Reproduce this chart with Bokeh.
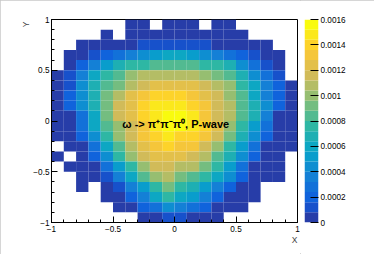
import numpy as np
from bokeh.plotting import figure
from bokeh.models import FixedTicker, CustomJSTickFormatter, Label, Range1d, Title
from bokeh.layouts import row
from bokeh.embed import file_html
from bokeh.resources import INLINE

# ---------------- data ----------------
# bin edges (20 x 20 bins over the Dalitz variables X, Y)
x_edges = np.linspace(-1.0, 1.0, 21)
y_edges = np.linspace(-1.0, 1.0, 21)

# bin contents in units of 1e-5, rows from top (Y = 0.9..1.0) to bottom (Y = -1.0..-0.9)
# 0 = empty bin (not drawn)
content_e5 = [
    [0, 0, 0, 0, 0, 0, 4, 4, 0, 4, 4, 4, 0, 4, 4, 0, 0, 0, 0, 0],
    [0, 0, 0, 0, 4, 0, 4, 4, 4, 4, 4, 4, 4, 4, 4, 4, 0, 0, 0, 0],
    [0, 0, 4, 4, 4, 4, 4, 12, 12, 12, 12, 12, 12, 4, 4, 4, 4, 4, 0, 0],
    [0, 4, 4, 12, 20, 28, 36, 44, 52, 60, 60, 52, 44, 36, 28, 20, 12, 4, 4, 0],
    [0, 4, 20, 36, 52, 68, 76, 76, 84, 84, 84, 84, 76, 76, 68, 44, 28, 12, 4, 0],
    [4, 12, 36, 60, 76, 84, 100, 108, 108, 108, 108, 108, 100, 92, 84, 68, 44, 28, 12, 0],
    [4, 12, 44, 68, 84, 92, 108, 116, 124, 124, 124, 124, 116, 108, 100, 76, 60, 36, 20, 4],
    [4, 20, 44, 68, 92, 108, 124, 132, 140, 140, 140, 132, 124, 116, 100, 84, 60, 36, 20, 4],
    [4, 20, 44, 68, 92, 116, 124, 140, 148, 148, 148, 140, 132, 116, 108, 84, 68, 44, 20, 4],
    [4, 4, 28, 60, 92, 116, 124, 140, 148, 156, 156, 148, 132, 116, 108, 84, 68, 36, 4, 4],
    [4, 4, 28, 60, 84, 100, 116, 132, 148, 156, 156, 148, 140, 124, 100, 76, 52, 28, 4, 4],
    [4, 4, 20, 44, 76, 100, 116, 132, 140, 148, 140, 140, 132, 116, 92, 68, 44, 20, 4, 4],
    [0, 4, 4, 28, 60, 84, 108, 124, 132, 140, 132, 132, 116, 100, 76, 52, 28, 4, 4, 4],
    [4, 0, 4, 20, 44, 76, 100, 116, 124, 124, 124, 116, 108, 84, 68, 44, 20, 4, 4, 0],
    [0, 4, 4, 4, 28, 52, 76, 100, 116, 116, 108, 108, 92, 76, 52, 28, 4, 4, 4, 0],
    [0, 0, 4, 4, 12, 36, 60, 84, 100, 108, 92, 84, 76, 60, 44, 20, 4, 4, 4, 0],
    [0, 0, 4, 0, 4, 12, 36, 52, 76, 92, 76, 68, 52, 36, 20, 4, 4, 0, 0, 0],
    [0, 0, 0, 0, 4, 4, 20, 36, 60, 76, 60, 52, 36, 20, 4, 4, 4, 0, 0, 0],
    [0, 0, 0, 0, 0, 4, 4, 20, 28, 44, 36, 28, 20, 4, 4, 4, 0, 0, 0, 0],
    [0, 0, 0, 0, 0, 0, 0, 4, 4, 12, 12, 4, 4, 4, 0, 0, 0, 0, 0, 0],
]

z_min, z_max = 0.0, 0.0016
n_levels = 20

x_tick_values = [-1, -0.5, 0, 0.5, 1]
x_tick_labels = ["\u22121", "\u22120.5", "0", "0.5", "1"]
y_tick_values = [-1, -0.5, 0, 0.5, 1]
y_tick_labels = ["\u22121", "\u22120.5", "0", "0.5", "1"]
minor_values = [round(-1 + 0.1 * i, 1) for i in range(21)]
cbar_tick_values = [0, 0.0002, 0.0004, 0.0006, 0.0008, 0.001, 0.0012, 0.0014, 0.0016]
cbar_tick_labels = ["0", "0.0002", "0.0004", "0.0006", "0.0008", "0.001", "0.0012", "0.0014", "0.0016"]

x_title = "X"
y_title = "Y"
title_text = "\u03c9 -> \u03c0\u207a\u03c0\u207b\u03c0\u2070, P-wave"

# ---------------- palette (ROOT kBird, 20 contour levels) ----------------
stops = [0.0, 0.125, 0.25, 0.375, 0.5, 0.625, 0.75, 0.875, 1.0]
red = [0.2082, 0.0592, 0.0780, 0.0232, 0.1802, 0.5301, 0.8186, 0.9956, 0.9764]
green = [0.1664, 0.3599, 0.5041, 0.6419, 0.7178, 0.7492, 0.7328, 0.7862, 0.9832]
blue = [0.5293, 0.8684, 0.8385, 0.7914, 0.6425, 0.4662, 0.3499, 0.1968, 0.0539]
pos = np.array([int((k + 0.99) * 255 / n_levels) for k in range(n_levels)]) / 254.0
pr = np.interp(pos, stops, red)
pg = np.interp(pos, stops, green)
pb = np.interp(pos, stops, blue)
palette = ["#%02x%02x%02x" % (int(round(r * 255)), int(round(g * 255)), int(round(b * 255)))
           for r, g, b in zip(pr, pg, pb)]

# ---------------- build bin table ----------------
left, right, bottom, top, colors = [], [], [], [], []
z = np.array(content_e5, dtype=float) * 1e-5
ny = len(content_e5)
for r_i in range(ny):
    j = ny - 1 - r_i
    for i in range(len(content_e5[r_i])):
        v = z[r_i, i]
        if v <= 0:
            continue
        lvl = int(np.clip(np.floor((v - z_min) / (z_max - z_min) * n_levels), 0, n_levels - 1))
        left.append(x_edges[i]); right.append(x_edges[i + 1])
        bottom.append(y_edges[j]); top.append(y_edges[j + 1])
        colors.append(palette[lvl])

FONT = "Liberation Sans"
TICK_FS = "8.2px"

def fmt(values, labels):
    return CustomJSTickFormatter(args=dict(vals=values, labs=labels), code="""
        for (let i = 0; i < vals.length; i++) {
            if (Math.abs(vals[i] - tick) < 1e-9) return labs[i];
        }
        return "";
    """)

# ---------------- main figure ----------------
p = figure(width=300, height=254, x_range=Range1d(-1, 1), y_range=Range1d(-1, 1),
           output_backend="svg", toolbar_location=None,
           min_border_left=51, min_border_right=3, min_border_top=19, min_border_bottom=32)
p.quad(left=left, right=right, bottom=bottom, top=top, fill_color=colors, line_color=None)
p.grid.visible = False
p.outline_line_color = "black"
p.outline_line_width = 1
p.background_fill_color = "white"
p.border_fill_color = "white"

for ax, vals, labs in ((p.xaxis[0], x_tick_values, x_tick_labels), (p.yaxis[0], y_tick_values, y_tick_labels)):
    ax.ticker = FixedTicker(ticks=vals, minor_ticks=minor_values)
    ax.formatter = fmt(vals, labs)
    ax.major_tick_in = 6
    ax.major_tick_out = 0
    ax.minor_tick_in = 3
    ax.minor_tick_out = 0
    ax.axis_line_color = "black"
    ax.major_tick_line_color = "black"
    ax.minor_tick_line_color = "black"
    ax.major_label_text_font = FONT
    ax.major_label_text_font_size = TICK_FS
    ax.major_label_text_color = "black"
p.xaxis.major_label_standoff = 3
p.yaxis.major_label_standoff = 2

# axis titles (ROOT style: at the far end of each axis)
p.add_layout(Title(text=x_title, align="right", text_font=FONT, text_font_size="8.5px",
                   text_font_style="normal", standoff=-4, offset=0), "below")
p.add_layout(Title(text=y_title, align="right", text_font=FONT, text_font_size="8.5px",
                   text_font_style="normal", standoff=0, offset=2), "left")

p.add_layout(Label(x=0.01, y=-0.03, text=title_text, text_align="center", text_baseline="middle",
                   text_font=FONT, text_font_style="bold", text_font_size="11px", text_color="black"))

# ---------------- colour bar ----------------
lvl_edges = np.linspace(z_min, z_max, n_levels + 1)
cb = figure(width=74, height=254, x_range=Range1d(0, 1), y_range=Range1d(z_min, z_max),
            output_backend="svg", toolbar_location=None, x_axis_location=None, y_axis_location="right",
            min_border_left=4, min_border_right=56, min_border_top=19, min_border_bottom=32)
cb.quad(left=0, right=1, bottom=lvl_edges[:-1], top=lvl_edges[1:], fill_color=palette, line_color=None)
cb.grid.visible = False
cb.outline_line_color = None
cb.border_fill_color = "white"
ya = cb.yaxis[0]
ya.ticker = FixedTicker(ticks=cbar_tick_values)
ya.formatter = fmt(cbar_tick_values, cbar_tick_labels)
ya.axis_line_color = None
ya.major_tick_in = 8
ya.major_tick_out = 0
ya.major_tick_line_color = "black"
ya.minor_tick_line_color = None
ya.major_label_standoff = 2
ya.major_label_text_font = FONT
ya.major_label_text_font_size = TICK_FS
ya.major_label_text_color = "black"

layout = row(p, cb, styles={"outline": "1px solid #c8c8c8", "outline-offset": "-1px"})
open("out.html", "w").write(file_html(layout, INLINE))
